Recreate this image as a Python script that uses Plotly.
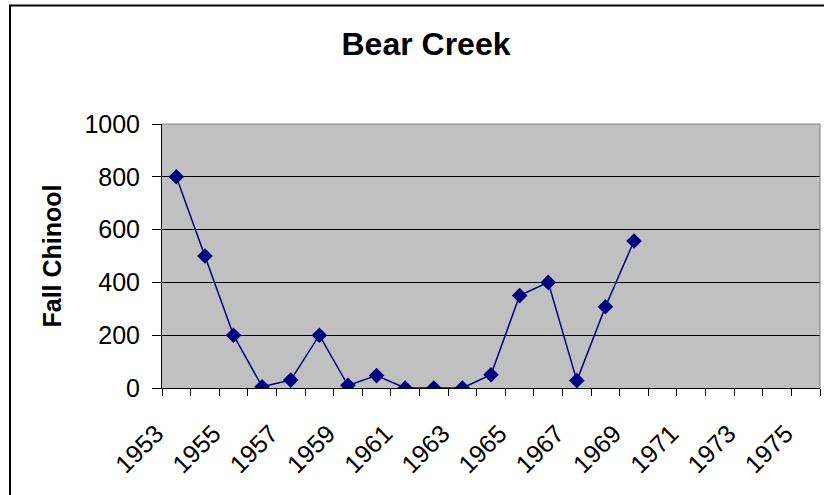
import plotly.graph_objects as go

# ---- data ----
years = [1953, 1954, 1955, 1956, 1957, 1958, 1959, 1960, 1961, 1962, 1963,
         1964, 1965, 1966, 1967, 1968, 1969]
fall_chinook = [800, 500, 200, 5, 30, 200, 10, 47, 0, 0, 0,
                50, 350, 400, 28, 308, 557]
tick_years = [1953, 1955, 1957, 1959, 1961, 1963, 1965, 1967, 1969, 1971, 1973, 1975]
tick_labels = [str(y) for y in tick_years]
y_ticks = [0, 200, 400, 600, 800, 1000]

FONT = "Arial, Liberation Sans, sans-serif"
W, H = 824, 495
L, R, T, B = 162, 4, 124, 107
pw, ph = W - L - R, H - T - B

def px_x(x):
    return (x - L) / pw

def px_y(y):
    return (H - B - y) / ph

fig = go.Figure()
fig.add_trace(go.Scatter(
    x=years, y=fall_chinook, mode="lines+markers",
    line=dict(color="#000080", width=1.5),
    marker=dict(symbol="diamond", size=12, color="#000080"),
    showlegend=False, hoverinfo="x+y",
))

fig.update_layout(
    width=W, height=H,
    margin=dict(l=L, r=R, t=T, b=B, pad=0),
    paper_bgcolor="white",
    plot_bgcolor="#C0C0C0",
    font=dict(family=FONT, color="black"),
    title=dict(text="<b>Bear Creek</b>", x=426 / W, xanchor="center",
               y=1 - 44 / H, yanchor="middle", font=dict(size=32, family=FONT)),
    xaxis=dict(
        range=[1952.5, 1975.5], tickmode="array", tickvals=tick_years, ticktext=tick_labels,
        tickangle=-45, ticks="", showgrid=False, zeroline=False,
        showline=True, linecolor="black", linewidth=1,
        tickfont=dict(size=25, family=FONT),
        ticklabelstandoff=20, ticklabelshift=-20,
        minor=dict(tickmode="linear", tick0=1952.5, dtick=1, ticks="outside",
                   ticklen=7, tickcolor="black", tickwidth=1, showgrid=False),
    ),
    yaxis=dict(
        range=[0, 1000], tickmode="array", tickvals=y_ticks,
        ticks="outside", ticklen=9, tickcolor="black",
        showgrid=True, gridcolor="black", gridwidth=1, zeroline=False,
        showline=True, linecolor="black", linewidth=1,
        tickfont=dict(size=25, family=FONT), ticklabelstandoff=7,
        title=dict(text="<b>Fall Chinool</b>", font=dict(size=25, family=FONT), standoff=15),
    ),
    shapes=[
        dict(type="line", xref="paper", yref="paper", x0=0, x1=1, y0=1, y1=1,
             line=dict(color="#808080", width=1), layer="above"),
        dict(type="line", xref="paper", yref="paper", x0=1, x1=1, y0=0, y1=1,
             line=dict(color="#808080", width=1), layer="above"),
        dict(type="rect", xref="paper", yref="paper",
             x0=px_x(10), x1=px_x(835), y0=px_y(5.5), y1=px_y(510),
             line=dict(color="black", width=2), fillcolor="rgba(0,0,0,0)", layer="above"),
    ],
)

fig.write_html("out.html", config={"displayModeBar": False},
               post_script="document.body.style.margin='0';document.body.style.overflow='hidden';")
